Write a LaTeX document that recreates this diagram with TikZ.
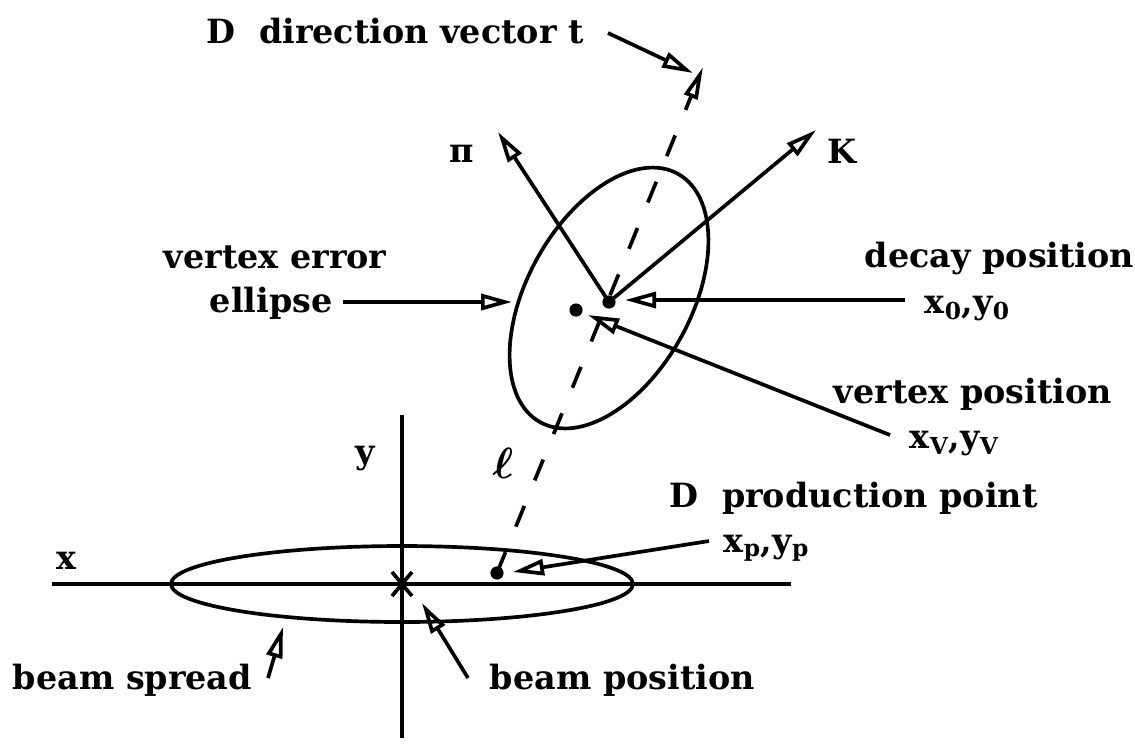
\documentclass[tikz,border=0pt]{standalone}
\usepackage{bm}
\usepackage{fontspec}
\setmainfont{DejaVu Serif}
\usetikzlibrary{arrows.meta}

\begin{document}
\begin{tikzpicture}[x=0.2mm, y=-0.2mm, line width=2.1pt,
    every node/.style={inner sep=0pt, font=\bfseries\fontsize{19}{22}\selectfont},
    hollow/.style={-{Triangle[open, length=0.62cm, width=0.32cm]}},
    pdot/.style={circle, fill, minimum size=7.5pt}]
    \useasboundingbox (0,0) rectangle (1135,751);

    % Beam axes, beam spread and beam position
    \coordinate (O) at (402,584);
    \draw[line width=1.8pt] (52,584) -- (791,584);
    \draw[line width=1.8pt] (402,415) -- (402,738);
    \draw (O) ellipse [x radius=231, y radius=38];
    \draw (O) +(-10,-12) -- +(10,12) +(-10,12) -- +(10,-12);
    \node (xlbl) at (66,561) {x};
    \node[anchor=base] (ylbl) at (365,463) {y};

    % Vertex error ellipse
    \coordinate (ec) at (609,298);
    \draw[rotate around={61:(ec)}] (ec) ellipse [x radius=142, y radius=82];

    % Decay, vertex and production points
    \node[pdot] (dp) at (609,302) {};
    \node[pdot] (vp) at (576,310) {};
    \node[pdot] (pp) at (497,573) {};

    % D flight path
    \coordinate (tTip) at (703,67);
    \draw[dash pattern=on 0.45cm off 0.55cm, -{Triangle[open, length=0.65cm, width=0.28cm]}] (pp.center) -- (tTip);
    \node (ell) at (503,463) {\fontsize{24}{24}\selectfont$\bm{\ell}$};

    % Decay tracks
    \coordinate (piTip) at (498,132);
    \coordinate (kTip) at (816,130);
    \draw[hollow] (dp.center) -- (piTip);
    \draw[hollow] (dp.center) -- (kTip);
    \node (pi) at (462,154) {π};
    \node[anchor=base] (K) at (842,163) {K};

    % Labels
    \node[anchor=base west] (dirlbl) at (205,43) {D\ \ direction vector t};
    \node[anchor=base west] (errlbl) at (162,268) {vertex error};
    \node[anchor=base west] (elllbl) at (208,312) {ellipse};
    \node[anchor=base west] (decaylbl) at (863,267) {decay position};
    \node[anchor=base west] (x0lbl) at (923,313) {x\textsubscript{0},y\textsubscript{0}};
    \node[anchor=base west] (vtxlbl) at (832,403) {vertex position};
    \node[anchor=base west] (xvlbl) at (908,448) {x\textsubscript{V},y\textsubscript{V}};
    \node[anchor=base west] (prodlbl) at (668,507) {D\ \ production point};
    \node[anchor=base west] (xplbl) at (722,552) {x\textsubscript{p},y\textsubscript{p}};
    \node[anchor=base west] (sprlbl) at (11,689) {beam spread};
    \node[anchor=base west] (poslbl) at (488,689) {beam position};

    % Pointer arrows
    \coordinate (dirTail) at (608,33);  \coordinate (dirTip) at (693,73);
    \coordinate (errTail) at (343,302); \coordinate (errTip) at (512,302);
    \coordinate (decTail) at (905,300); \coordinate (decTip) at (625,300);
    \coordinate (vtxTail) at (890,435); \coordinate (vtxTip) at (588,315);
    \coordinate (prodTail) at (709,541); \coordinate (prodTip) at (513,572);
    \coordinate (sprTail) at (268,678); \coordinate (sprTip) at (283,627);
    \coordinate (posTail) at (468,678); \coordinate (posTip) at (422,603);
    \draw[hollow] (dirTail) -- (dirTip);
    \draw[hollow] (errTail) -- (errTip);
    \draw[hollow] (decTail) -- (decTip);
    \draw[hollow] (vtxTail) -- (vtxTip);
    \draw[hollow] (prodTail) -- (prodTip);
    \draw[hollow] (sprTail) -- (sprTip);
    \draw[hollow] (posTail) -- (posTip);
\end{tikzpicture}
\end{document}
